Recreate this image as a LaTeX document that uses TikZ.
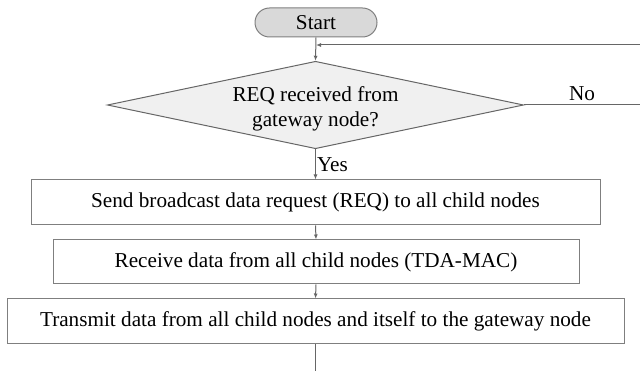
\documentclass[tikz,border=0pt]{standalone}
\usepackage{fontspec}
\setmainfont{Liberation Serif}
\usetikzlibrary{shapes.geometric,arrows.meta}
\definecolor{lc}{HTML}{666666}
\definecolor{bc}{HTML}{7F7F7F}
\definecolor{startfill}{HTML}{D9D9D9}
\definecolor{decfill}{HTML}{F0F0F0}
\begin{document}
\begin{tikzpicture}[x=1pt,y=-1pt,
  font=\fontsize{21.2}{25}\selectfont,
  every node/.style={text=black},
  box/.style={draw=bc, line width=1pt, fill=white, inner sep=0pt, minimum height=45pt},
  startbox/.style={draw=bc, line width=1pt, fill=startfill, rounded corners=14.5pt, inner sep=0pt, minimum width=122pt, minimum height=29pt},
  decision/.style={diamond, draw=lc, line width=1pt, fill=decfill, inner sep=0pt, aspect=4.76, minimum width=414pt, minimum height=87pt, align=center},
  conn/.style={draw=lc, line width=1pt},
  flow/.style={conn, -{Latex[length=5pt,width=4pt]}},
  lbl/.style={inner sep=1pt}]
\useasboundingbox (0,0) rectangle (640,371);
\node[startbox] (start) at (316,22.5) {Start};
\node[decision] (dec) at (315.5,105) {\rule{0pt}{23pt}REQ received from\\gateway node?};
\node[box, minimum width=569pt] (b1) at (315.5,202.5) {Send broadcast data request (REQ) to all child nodes};
\node[box, minimum width=526pt, minimum height=44pt] (b2) at (316,262) {Receive data from all child nodes (TDA-MAC)};
\node[box, minimum width=617pt] (b3) at (315.5,321.5) {Transmit data from all child nodes and itself to the gateway node};
\coordinate (loopin) at (640,45);
\coordinate (loopout) at (640,105);
\coordinate (endp) at (315.5,371);
\draw[flow] (start.south) -- (dec.north);
\draw[flow] (loopin) -- (loopin -| start.south);
\draw[conn] (dec.east) -- node[above=3pt, lbl] {No} (loopout);
\draw[flow] (dec.south) -- node[right, lbl] {Yes} (b1.north);
\draw[flow] (b1.south) -- (b2.north);
\draw[flow] (b2.south) -- (b3.north);
\draw[conn] (b3.south) -- (endp);
\end{tikzpicture}
\end{document}
